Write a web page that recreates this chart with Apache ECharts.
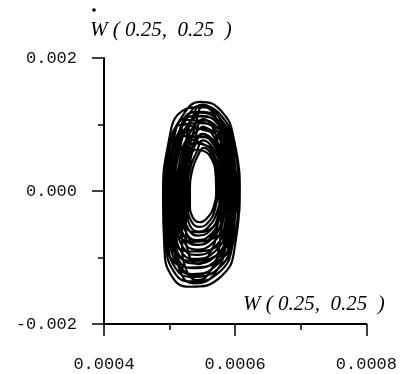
<!DOCTYPE html>
<html>
<head>
<meta charset="utf-8">
<script src="https://cdn.jsdelivr.net/npm/echarts@6/dist/echarts.min.js"></script>
<style>
  html, body { margin: 0; padding: 0; background: #fff; }
  #chart { width: 400px; height: 374px; }
</style>
</head>
<body>
<div id="chart"></div>
<script>
// Phase trajectory at the point (0.25, 0.25): displacement W against velocity Ẇ.
// W is stored in units of 1e-6 and Ẇ in units of 1e-5; each row is one revolution
// (clockwise, starting at the top of the orbit).
const W_E6 = [
  550, 572, 584, 589, 584, 568, 539, 520, 512, 511, 517, 531,
  549, 574, 588, 593, 588, 571, 536, 515, 506, 505, 511, 528,
  548, 576, 592, 598, 593, 574, 534, 511, 501, 499, 506, 524,
  547, 578, 596, 605, 597, 577, 532, 507, 495, 493, 501, 521,
  547, 579, 598, 606, 600, 579, 531, 504, 492, 490, 498, 519,
  548, 577, 594, 601, 595, 576, 533, 509, 498, 496, 504, 523,
  548, 575, 590, 596, 590, 572, 535, 513, 503, 502, 509, 526,
  549, 573, 586, 591, 586, 569, 537, 517, 509, 506, 514, 529,
  550, 570, 582, 586, 581, 566, 540, 522, 515, 514, 520, 533,
  551, 568, 578, 581, 576, 562, 542, 526, 520, 520, 525, 536,
  551, 566, 574, 578, 572, 559, 544, 531, 526, 525, 530, 540,
  552, 564, 570, 571, 567, 556, 546, 535, 531, 531, 535, 543,
  552, 565, 572, 573, 569, 558, 545, 533, 528, 528, 532, 541,
  551, 567, 576, 578, 574, 561, 543, 529, 523, 522, 527, 538,
  550, 569, 580, 583, 579, 564, 541, 524, 517, 517, 522, 535,
  550, 570, 581, 585, 580, 565, 540, 523, 515, 515, 520, 533,
  551, 567, 576, 578, 574, 561, 543, 529, 523, 523, 528, 538,
  551, 566, 574, 576, 572, 559, 544, 530, 525, 525, 529, 539,
  551, 569, 578, 582, 577, 563, 542, 526, 519, 519, 524, 536,
  549, 572, 585, 590, 585, 569, 538, 518, 510, 508, 515, 530,
  549, 574, 588, 594, 588, 571, 536, 515, 506, 504, 511, 527,
  548, 577, 594, 601, 595, 576, 533, 509, 498, 496, 504, 523,
  547, 580, 599, 607, 600, 579, 531, 503, 492, 490, 498, 519,
  548, 578, 595, 603, 597, 577, 533, 507, 496, 494, 502, 521,
  548, 575, 591, 597, 592, 573, 535, 512, 502, 500, 507, 525,
  550
];
const WDOT_E5 = [
   97,  84,  52,   2,  -52,  -85,  -96,  -84, -52,  -3,  52,  87,
  107,  94,  59,   1,  -60,  -97, -109,  -97, -61,  -6,  57,  96,
  118, 104,  67,   1,  -68, -109, -126, -109, -70,  -8,  63, 105,
  128, 114,  74,   0,  -76, -121, -136, -122, -79, -11,  68, 115,
  134, 120,  78,   0,  -80, -128, -144, -129, -84, -12,  71, 120,
  126, 109,  70,   0,  -72, -115, -129, -116, -74,  -9,  65, 110,
  113,  99,  63,   1,  -64, -103, -116, -103, -65,  -7,  60, 101,
  102,  89,  56,   1,  -56,  -91, -102,  -90, -57,  -4,  55,  91,
   94,  78,  48,   2,  -48,  -78,  -88,  -77, -47,  -2,  49,  81,
   81,  68,  41,   2,  -40,  -66,  -74,  -64, -38,   1,  44,  72,
   70,  58,  33,   3,  -32,  -54,  -61,  -52, -29,   3,  38,  62,
   60,  48,  26,   3,  -24,  -42,  -47,  -39, -20,   6,  33,  53,
   65,  53,  30,   3,  -28,  -48,  -54,  -45, -24,   5,  36,  58,
   76,  63,  37,   2,  -36,  -60,  -67,  -58, -33,   2,  41,  67,
   86,  73,  44,   2,  -44,  -72,  -81,  -71, -42,   0,  46,  77,
   71,  59,  34,   3,  -32,  -55,  -62,  -53, -30,   3,  39,  63,
   86,  73,  44,   2,  -44,  -72,  -81,  -71, -42,   0,  46,  76,
  108,  95,  60,   1,  -60,  -98, -110,  -98, -62,  -6,  58,  97,
  127, 113,  73,   0,  -74, -119, -134, -120, -78, -10,  67, 113,
  130, 116,  75,   0,  -77, -124, -139, -125, -81, -11,  69, 117,
  119, 106,  68,   1,  -69, -111, -125, -111, -71,  -8,  63, 107,
  104,  91,  57,   1,  -58,  -94, -105,  -93, -58,  -5,  56,  93,
  112,  98,  62,   1,  -63, -102, -115, -102, -65,  -7,  60, 100,
   93,  80,  49,   2,  -49,  -81,  -91,  -80, -49,  -2,  50,  83,
   82,  70,  42,   2,  -41,  -68,  -76,  -66, -39,   1,  44,  73,
   97
];

// Axis ticks
const X_TICKS = [0.0004, 0.0006, 0.0008];
const Y_TICKS = [-0.002, 0.000, 0.002];

const AXIS_TITLE = 'W ( 0.25,  0.25  )';

const trajectory = W_E6.map((w, i) => [w * 1e-6, WDOT_E5[i] * 1e-5]);

const ink = '#000';
const labelFont = { fontFamily: '"Liberation Mono", "DejaVu Sans Mono", monospace', fontSize: 17, color: '#111' };
const titleFont = 'italic 21px "Liberation Serif", "DejaVu Serif", serif';

const chart = echarts.init(document.getElementById('chart'), null, { renderer: 'canvas' });
chart.setOption({
  animation: false,
  backgroundColor: '#fff',
  grid: { left: 104, right: 31, top: 58, bottom: 50, containLabel: false },
  xAxis: {
    type: 'value',
    min: X_TICKS[0],
    max: X_TICKS[X_TICKS.length - 1],
    interval: 0.0002,
    axisLine: { show: true, onZero: false, lineStyle: { color: ink, width: 2 } },
    axisTick: { show: true, length: 12, lineStyle: { color: ink, width: 1.5 } },
    minorTick: { show: true, splitNumber: 2, length: 6, lineStyle: { color: ink, width: 1.5 } },
    splitLine: { show: false },
    axisLabel: Object.assign({ margin: 32, formatter: v => v.toFixed(4) }, labelFont)
  },
  yAxis: {
    type: 'value',
    min: Y_TICKS[0],
    max: Y_TICKS[Y_TICKS.length - 1],
    interval: 0.002,
    axisLine: { show: true, onZero: false, lineStyle: { color: ink, width: 2 } },
    axisTick: { show: true, length: 12, lineStyle: { color: ink, width: 1.5 } },
    minorTick: { show: true, splitNumber: 2, length: 6, lineStyle: { color: ink, width: 1.5 } },
    splitLine: { show: false },
    axisLabel: Object.assign({ margin: 27, formatter: v => v.toFixed(3) }, labelFont)
  },
  graphic: [
    {
      type: 'text', x: 90, y: 30,
      style: { text: AXIS_TITLE, font: titleFont, fill: ink,
               align: 'left', verticalAlign: 'middle', textAlign: 'left', textVerticalAlign: 'middle' }
    },
    { type: 'circle', shape: { cx: 94, cy: 10, r: 1.8 }, style: { fill: ink } },
    {
      type: 'text', x: 243, y: 304,
      style: { text: AXIS_TITLE, font: titleFont, fill: ink,
               align: 'left', verticalAlign: 'middle', textAlign: 'left', textVerticalAlign: 'middle' }
    }
  ],
  series: [{
    type: 'line',
    data: trajectory,
    symbol: 'none',
    showSymbol: false,
    smooth: 0.5,
    lineStyle: { color: ink, width: 2.2 },
    emphasis: { disabled: true }
  }]
});
</script>
</body>
</html>
